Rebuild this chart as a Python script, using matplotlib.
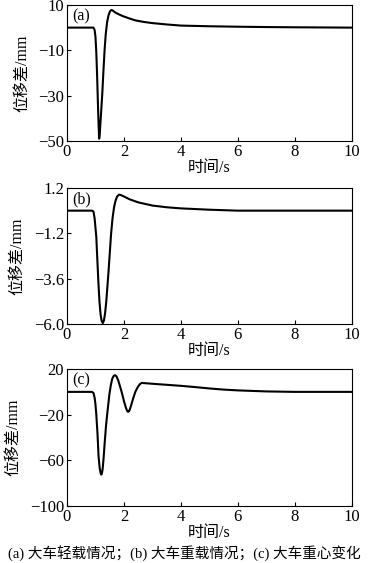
import matplotlib
import matplotlib.pyplot as plt

matplotlib.use('Agg')

plt.rcParams['font.family'] = ['Liberation Serif', 'Noto Sans CJK SC']
plt.rcParams['axes.unicode_minus'] = True

# (a) light load
ta = [0, 0.93, 0.97, 1.0, 1.03, 1.06, 1.09, 1.11, 1.13, 1.15, 1.18, 1.21, 1.24,
      1.28, 1.32, 1.36, 1.41, 1.46, 1.51, 1.56, 1.6, 1.65, 1.72, 1.8, 1.9, 2.0,
      2.2, 2.4, 2.7, 3.0, 3.5, 4.0, 5.0, 6.0, 7.0, 8.0, 10.0]
ya = [0, 0, -1, -4, -11, -22, -35, -43, -49, -47, -41, -35, -29,
      -19, -10, -3, 2.5, 5.5, 7.2, 7.8, 7.6, 7.1, 6.5, 6.0, 5.4, 4.9,
      4.0, 3.2, 2.5, 2.0, 1.4, 0.9, 0.6, 0.4, 0.25, 0.15, 0]

# (b) heavy load
tb = [0, 0.88, 0.93, 0.97, 1.0, 1.03, 1.06, 1.1, 1.14, 1.18, 1.22, 1.26, 1.3,
      1.34, 1.38, 1.42, 1.46, 1.5, 1.55, 1.6, 1.65, 1.7, 1.76, 1.83, 1.9, 2.0,
      2.2, 2.5, 3.0, 3.5, 4.0, 5.0, 6.0, 8.0, 10.0]
yb = [0, 0, -0.05, -0.4, -0.9, -1.4, -2.4, -3.7, -4.8, -5.5, -5.85, -5.95, -5.8,
      -5.4, -4.8, -4.0, -3.2, -2.3, -1.2, -0.4, 0.15, 0.5, 0.75, 0.85, 0.82, 0.75,
      0.6, 0.44, 0.27, 0.18, 0.12, 0.05, 0.0, 0.0, 0.0]

# (c) centre of gravity change
tc = [0, 0.88, 0.93, 0.97, 1.0, 1.03, 1.07, 1.11, 1.15, 1.18, 1.2, 1.22, 1.25,
      1.28, 1.32, 1.37, 1.41, 1.45, 1.49, 1.54, 1.59, 1.64, 1.69, 1.74, 1.8, 1.86,
      1.93, 2.0, 2.07, 2.12, 2.15, 2.19, 2.25, 2.32, 2.4, 2.48, 2.56, 2.63, 2.7,
      3.0, 3.5, 4.0, 4.5, 5.0, 5.5, 6.0, 7.0, 8.0, 9.0, 10.0]
yc = [0, 0, -1, -5, -11, -20, -36, -57, -67, -71, -72.5, -72, -68,
      -60, -46, -30, -20, -11, -2, 6, 11.5, 14, 14.6, 13.5, 10, 5,
      -1, -8, -14, -17, -17.5, -16.5, -12, -6, 0, 4, 6.8, 7.9, 7.7,
      7.1, 6.2, 5.3, 4.2, 3.0, 2.0, 1.3, 0.4, 0.0, 0, 0]

xticks = [0, 2, 4, 6, 8, 10]
yticks_a = [10, -10, -30, -50]
yticks_b = [1.2, -1.2, -3.6, -6.0]
ylabels_b = ['1.2', '\u22121.2', '\u22123.6', '\u22126.0']
yticks_c = [20, -20, -60, -100]

panels = [
    (ta, ya, yticks_a, None, '(a)', [0.7496, 0.2416]),
    (tb, yb, yticks_b, ylabels_b, '(b)', [0.4245, 0.2416]),
    (tc, yc, yticks_c, None, '(c)', [0.1012, 0.2433]),
]

fig = plt.figure(figsize=(3.68, 5.63), dpi=100)
for t, y, yt, ylab, tag, (bot, h) in panels:
    ax = fig.add_axes([0.182, bot, 0.774, h])
    ax.plot(t, y, color='black', lw=1.5)
    ax.set_xlim(0, 10)
    ax.set_ylim(yt[-1], yt[0])
    ax.set_xticks(xticks)
    ax.set_yticks(yt)
    if ylab is not None:
        ax.set_yticklabels(ylab)
    ax.tick_params(direction='in', length=3, labelsize=12, pad=2)
    ax.set_xlabel('时间/s', fontsize=11.5, labelpad=0)
    ax.set_ylabel('位移差/mm', fontsize=11.5, labelpad=6)
    ax.text(0.02, 0.975, tag, transform=ax.transAxes, fontsize=11.5,
            ha='left', va='top')
    for s in ax.spines.values():
        s.set_linewidth(0.8)

fig.text(0.5, 0.017, '(a) 大车轻载情况；(b) 大车重载情况；(c) 大车重心变化',
         ha='center', va='center', fontsize=10.5)

fig.savefig('out.png', dpi=100)
